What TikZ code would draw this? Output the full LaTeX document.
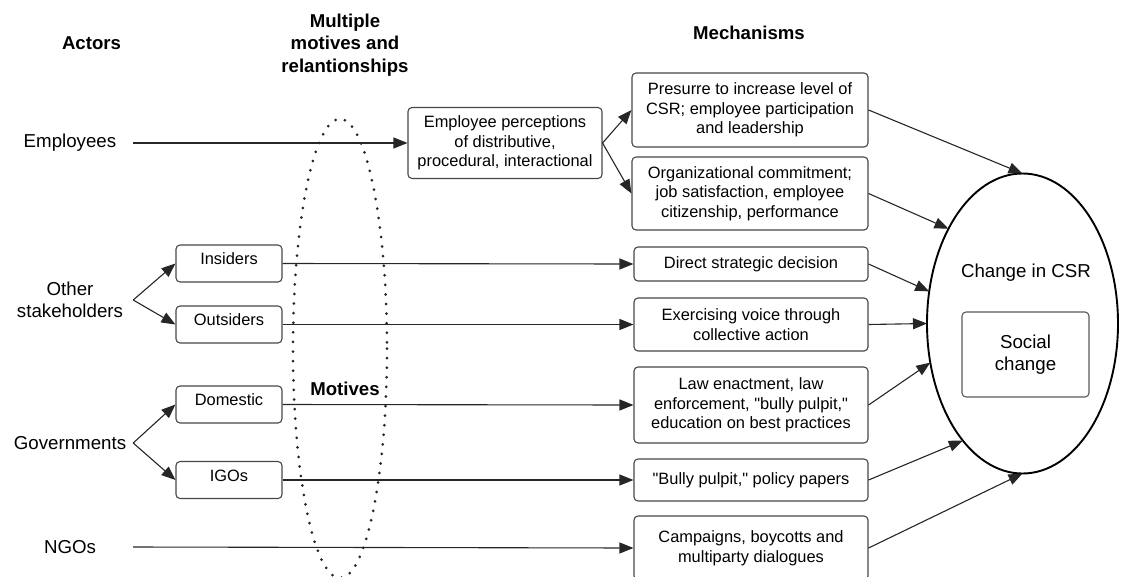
\documentclass[tikz,border=0pt]{standalone}
\usepackage{fontspec}
\setmainfont{Liberation Sans}
\newfontfamily\qfont{Liberation Sans}
\usetikzlibrary{arrows.meta,shapes.geometric}
\newcommand\sq{{\qfont"}}
\tikzset{
  big/.style={font=\fontsize{18.7}{22.4}\selectfont},
  head/.style={font=\fontsize{18.6}{22.2}\selectfont\bfseries, align=center},
  boxtxt/.style={font=\fontsize{16.4}{19.6}\selectfont},
  actor/.style={big, align=center, minimum width=126pt, inner sep=0pt},
  mbox/.style={boxtxt, draw=black!72, line width=1.1pt, rounded corners=4pt, align=center, inner sep=2pt},
  sbox/.style={mbox, minimum width=106pt, minimum height=37pt, text height=12pt, text depth=10pt, inner ysep=0pt},
  rbox/.style={mbox, minimum width=234pt},
  conn/.style={line width=1.1pt, draw=black!85, -{Triangle[length=14pt,width=11pt]}},
  motif/.style={line width=3pt, line cap=round, dash pattern=on 0pt off 9.6pt, draw=black!85}
}
\begin{document}
\begin{tikzpicture}[x=1pt,y=-1pt]
\useasboundingbox (0,0) rectangle (1121,576);
% headings
\node[head] (hact) at (91.5,43) {Actors};
\node[head] (hmot) at (345,45) {Multiple\\motives and\\relantionships};
\node[head] (hmech) at (749,33) {Mechanisms};
% dotted ellipse of motives
\draw[motif] (340,348.5) ellipse (47 and 229.5);
\node[head] (motives) at (345,389) {Motives};
% actors
\node[actor] (emp) at (70,143) {Employees};
\node[actor] (oth) at (70,300) {Other\\stakeholders};
\node[actor] (gov) at (70,443) {Governments};
\node[actor] (ngo) at (70,547) {NGOs};
% intermediate boxes
\node[mbox, minimum width=194pt, minimum height=71pt] (perc) at (505,143) {Employee perceptions\\of distributive,\\procedural, interactional};
\node[sbox] (ins) at (229,263.5) {Insiders};
\node[sbox] (outs) at (229,324.5) {Outsiders};
\node[sbox] (dom) at (229,404.5) {Domestic};
\node[sbox] (igo) at (229,480) {IGOs};
% mechanism boxes
\node[mbox, minimum width=236pt, minimum height=74pt] (pres) at (750,110) {Presurre to increase level of\\CSR; employee participation\\and leadership};
\node[mbox, minimum width=236pt, minimum height=73pt] (org) at (750,193.5) {Organizational commitment;\\job satisfaction, employee\\citizenship, performance};
\node[rbox, minimum height=34pt] (dir) at (751,264) {Direct strategic decision};
\node[rbox, minimum height=53pt] (exe) at (751,324.5) {Exercising voice through\\collective action};
\node[rbox, minimum height=76pt] (law) at (751,405) {Law enactment, law\\enforcement, \sq bully pulpit,\sq\\education on best practices};
\node[rbox, minimum height=42pt] (bul) at (751,480) {\sq Bully pulpit,\sq{} policy papers};
\node[rbox, minimum height=64pt] (cam) at (751,548) {Campaigns, boycotts and\\multiparty dialogues};
% outcome
\node[draw=black, line width=1.9pt, ellipse, minimum width=191pt, minimum height=300pt, inner sep=0pt, outer sep=0pt] (csr) at (1022.5,323.5) {};
\node[big] (csrt) at (1026,273) {Change in CSR};
\node[mbox, big, minimum width=127pt, minimum height=85pt, draw=black!65] (soc) at (1025.5,354.5) {Social\\change};
% connectors
\draw[conn] (emp.east) -- (perc.west);
\draw[conn] (perc.east) -- (pres.west);
\draw[conn] (perc.east) -- (org.west);
\draw[conn] (oth.east) -- (ins.west);
\draw[conn] (oth.east) -- (outs.west);
\draw[conn] (gov.east) -- (dom.west);
\draw[conn] (gov.east) -- (igo.west);
\draw[conn] (ins.east) -- (dir.west);
\draw[conn] (outs.east) -- (exe.west);
\draw[conn] (dom.east) -- (law.west);
\draw[conn] (igo.east) -- (bul.west);
\draw[conn] (ngo.east) -- (cam.west);
\draw[conn] (pres.east) -- (csr.north);
\draw[conn] (org.east) -- (csr.128.7);
\draw[conn] (dir.east) -- (csr.161.8);
\draw[conn] (exe.east) -- (csr.west);
\draw[conn] (law.east) -- (csr.203.4);
\draw[conn] (bul.east) -- (csr.243.2);
\draw[conn] (cam.east) -- (csr.south);
\end{tikzpicture}
\end{document}
